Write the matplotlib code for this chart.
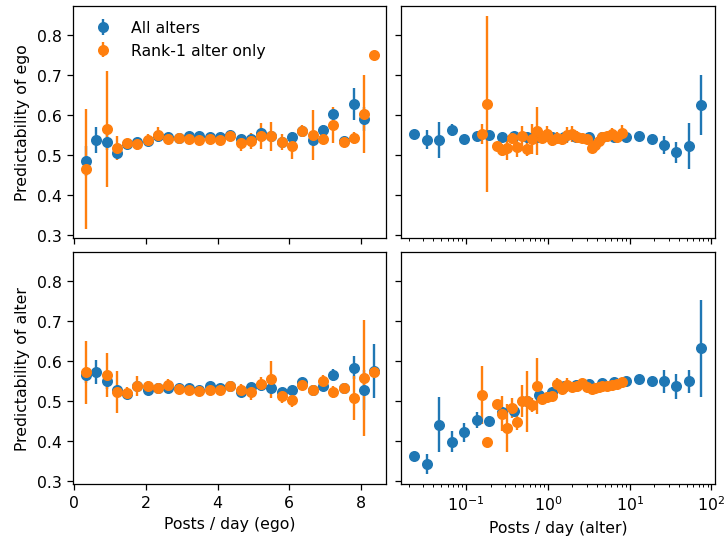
import matplotlib
matplotlib.use("Agg")
import matplotlib.pyplot as plt

# posts/day of ego (bin centres)
ego_x = [0.335, 0.622, 0.909, 1.196, 1.483, 1.770, 2.057, 2.344, 2.631, 2.918,
         3.205, 3.492, 3.779, 4.066, 4.353, 4.640, 4.927, 5.214, 5.501, 5.788,
         6.075, 6.362, 6.649, 6.936, 7.223, 7.510, 7.797, 8.084, 8.371]
ego_x_rank1 = [0.335, 0.909, 1.196, 1.483, 1.770, 2.057, 2.344, 2.631, 2.918,
               3.205, 3.492, 3.779, 4.066, 4.353, 4.640, 4.927, 5.214, 5.501, 5.788,
               6.075, 6.362, 6.649, 6.936, 7.223, 7.510, 7.797, 8.084, 8.371]

# posts/day of alter
alt_x = [0.0232, 0.0330, 0.0469, 0.0667, 0.0948, 0.1349, 0.1914, 0.2723,
         0.3873, 0.5500, 0.7816, 1.112, 1.581, 2.244, 3.192, 4.539, 6.457,
         9.162, 13.03, 18.54, 26.36, 37.41, 53.21, 75.51]
alt_x_rank1 = [0.158, 0.182, 0.2415, 0.278, 0.320, 0.368, 0.424, 0.487, 0.561,
               0.645, 0.743, 0.855, 0.98, 1.13, 1.30, 1.50, 1.73, 1.99, 2.28,
               2.63, 3.02, 3.48, 3.82, 4.19, 4.60, 5.30, 6.10, 7.00, 8.08]

# predictability of ego vs ego posts
ego_ego_all = [0.485, 0.538, 0.532, 0.505, 0.527, 0.532, 0.536, 0.547, 0.544, 0.542,
               0.547, 0.548, 0.544, 0.544, 0.550, 0.540, 0.540, 0.554, 0.548, 0.532,
               0.546, 0.559, 0.537, 0.563, 0.602, 0.536, 0.627, 0.590]
ego_ego_all_err = [0.038, 0.033, 0.02, 0.01, 0.01, 0.01, 0.01, 0.01, 0.008, 0.008,
                   0.008, 0.008, 0.008, 0.008, 0.01, 0.01, 0.01, 0.01, 0.01, 0.012,
                   0.012, 0.01, 0.012, 0.013, 0.012, 0.01, 0.04, 0.03]
ego_ego_r1 = [0.465, 0.565, 0.517, 0.529, 0.527, 0.537, 0.551, 0.540, 0.542, 0.540,
              0.537, 0.540, 0.538, 0.548, 0.530, 0.536, 0.548, 0.547, 0.533, 0.522,
              0.561, 0.550, 0.540, 0.575, 0.533, 0.542, 0.602, 0.750]
ego_ego_r1_err = [0.151, 0.145, 0.03, 0.012, 0.015, 0.015, 0.018, 0.008, 0.008, 0.008,
                  0.01, 0.008, 0.01, 0.012, 0.02, 0.02, 0.032, 0.036, 0.02, 0.033,
                  0.015, 0.062, 0.013, 0.045, 0.01, 0.015, 0.098, 0.0]

# predictability of ego vs alter posts
ego_alt_all = [0.553, 0.538, 0.537, 0.562, 0.539, 0.548, 0.550, 0.546, 0.548, 0.544,
               0.546, 0.546, 0.546, 0.546, 0.546, 0.546, 0.546, 0.546, 0.548, 0.540,
               0.525, 0.507, 0.523, 0.625]
ego_alt_all_err = [0.005, 0.024, 0.045, 0.015, 0.005, 0.006, 0.008, 0.008, 0.006, 0.005,
                   0.005, 0.005, 0.005, 0.005, 0.005, 0.005, 0.005, 0.005, 0.005, 0.008,
                   0.022, 0.026, 0.058, 0.075]
ego_alt_r1 = [0.5525, 0.6275, 0.523, 0.513, 0.517, 0.542, 0.519, 0.547, 0.515, 0.540,
              0.561, 0.542, 0.5525, 0.538, 0.542, 0.540, 0.550, 0.5525, 0.544, 0.542,
              0.540, 0.517, 0.525, 0.536, 0.544, 0.547, 0.5525, 0.544, 0.555]
ego_alt_r1_err = [0.024, 0.22, 0.01, 0.015, 0.03, 0.015, 0.023, 0.025, 0.018, 0.038,
                  0.06, 0.01, 0.02, 0.015, 0.015, 0.015, 0.02, 0.02, 0.015, 0.01,
                  0.01, 0.012, 0.01, 0.01, 0.01, 0.01, 0.015, 0.01, 0.02]

# predictability of alter vs ego posts
alt_ego_all = [0.564, 0.572, 0.549, 0.527, 0.517, 0.537, 0.527, 0.533, 0.531, 0.531,
               0.533, 0.527, 0.536, 0.533, 0.537, 0.522, 0.535, 0.539, 0.531, 0.521,
               0.526, 0.547, 0.527, 0.537, 0.564, 0.533, 0.583, 0.526, 0.575]
alt_ego_all_err = [0.02, 0.03, 0.02, 0.01, 0.01, 0.01, 0.01, 0.008, 0.008, 0.008,
                   0.008, 0.008, 0.008, 0.008, 0.008, 0.01, 0.01, 0.01, 0.01, 0.01,
                   0.01, 0.01, 0.01, 0.012, 0.015, 0.01, 0.028, 0.05, 0.068]
alt_ego_r1 = [0.571, 0.564, 0.522, 0.519, 0.537, 0.536, 0.533, 0.539, 0.529, 0.527,
              0.524, 0.526, 0.526, 0.536, 0.527, 0.521, 0.542, 0.554, 0.512, 0.502,
              0.539, 0.527, 0.550, 0.521, 0.531, 0.506, 0.557, 0.571]
alt_ego_r1_err = [0.079, 0.055, 0.052, 0.015, 0.026, 0.013, 0.012, 0.015, 0.008, 0.008,
                  0.008, 0.008, 0.01, 0.01, 0.015, 0.018, 0.018, 0.046, 0.018, 0.017,
                  0.012, 0.012, 0.015, 0.015, 0.01, 0.055, 0.144, 0.01]

# predictability of alter vs alter posts
alt_alt_all = [0.361, 0.343, 0.440, 0.398, 0.421, 0.452, 0.450, 0.472, 0.474, 0.500,
               0.514, 0.521, 0.537, 0.539, 0.541, 0.544, 0.547, 0.550, 0.554, 0.550,
               0.549, 0.536, 0.549, 0.631]
alt_alt_all_err = [0.005, 0.025, 0.069, 0.026, 0.023, 0.02, 0.013, 0.01, 0.01, 0.008,
                   0.008, 0.006, 0.006, 0.005, 0.005, 0.005, 0.005, 0.005, 0.005, 0.01,
                   0.029, 0.031, 0.029, 0.122]
alt_alt_r1 = [0.514, 0.396, 0.492, 0.468, 0.432, 0.483, 0.446, 0.4985, 0.4985, 0.490,
              0.536, 0.504, 0.5085, 0.5125, 0.542, 0.529, 0.540, 0.5335, 0.5375, 0.5435,
              0.5335, 0.529, 0.532, 0.535, 0.5365, 0.5375, 0.540, 0.542, 0.546]
alt_alt_r1_err = [0.073, 0.0, 0.01, 0.044, 0.06, 0.025, 0.02, 0.04, 0.077, 0.018,
                  0.07, 0.012, 0.013, 0.012, 0.015, 0.012, 0.018, 0.012, 0.015, 0.01,
                  0.01, 0.012, 0.01, 0.01, 0.01, 0.01, 0.01, 0.01, 0.012]

fig, axes = plt.subplots(2, 2, figsize=(6.4, 4.76), dpi=113.44, sharey=True, sharex="col")
plt.subplots_adjust(left=0.1, right=0.985, bottom=0.1024, top=0.987,
                    wspace=0.047, hspace=0.059)

panels = [
    (axes[0, 0], ego_x, ego_ego_all, ego_ego_all_err, ego_x_rank1, ego_ego_r1, ego_ego_r1_err),
    (axes[0, 1], alt_x, ego_alt_all, ego_alt_all_err, alt_x_rank1, ego_alt_r1, ego_alt_r1_err),
    (axes[1, 0], ego_x, alt_ego_all, alt_ego_all_err, ego_x_rank1, alt_ego_r1, alt_ego_r1_err),
    (axes[1, 1], alt_x, alt_alt_all, alt_alt_all_err, alt_x_rank1, alt_alt_r1, alt_alt_r1_err),
]

for ax, x1, y1, e1, x2, y2, e2 in panels:
    # top-left "all alters" series has no point in the last bin
    ax.errorbar(x1[:len(y1)], y1, yerr=e1, fmt="o", color="C0", label="All alters")
    ax.errorbar(x2, y2, yerr=e2, fmt="o", color="C1", label="Rank-1 alter only")

axes[0, 1].set_xscale("log")
axes[0, 0].set_xlim(-0.036, 8.705)
axes[0, 1].set_xlim(0.0162, 111)
axes[0, 0].set_ylim(0.2925, 0.8725)
axes[0, 0].set_yticks([0.3, 0.4, 0.5, 0.6, 0.7, 0.8])

axes[0, 0].set_ylabel("Predictability of ego")
axes[1, 0].set_ylabel("Predictability of alter")
axes[1, 0].set_xlabel("Posts / day (ego)")
axes[1, 1].set_xlabel("Posts / day (alter)")

axes[0, 0].legend(loc="upper left", frameon=False)

plt.savefig("out.png")
